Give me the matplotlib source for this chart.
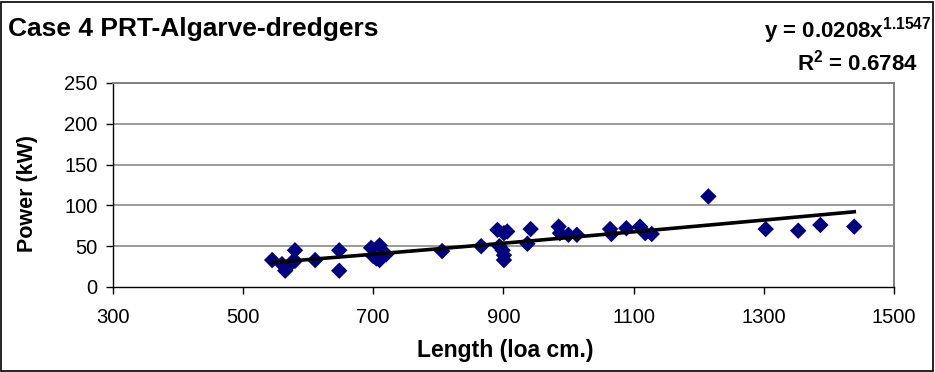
import numpy as np
import matplotlib
matplotlib.use('Agg')
import matplotlib.pyplot as plt

# Case 4 PRT-Algarve-dredgers : length (loa cm) vs power (kW)
length = [545, 560, 565, 575, 580, 580, 611, 648, 648, 697, 700, 705, 710, 710, 720,
          806, 866, 891, 894, 899, 901, 901, 901, 906, 937, 942, 985, 987, 1000, 1013,
          1064, 1066, 1089, 1110, 1118, 1128, 1215, 1303, 1353, 1387, 1439]
power = [33, 28, 20, 30, 45, 32, 33, 45, 20, 48, 38, 35, 51, 33, 40,
         44, 50, 70, 50, 45, 66, 39, 33, 68, 53, 71, 74, 66, 64, 64,
         71, 65, 72, 74, 66, 65, 111, 71, 69, 76, 74]

# power trendline from the chart label
coef_a = 0.0208
coef_b = 1.1547
r2 = 0.6784

x_ticks = [300, 500, 700, 900, 1100, 1300, 1500]
y_ticks = [0, 50, 100, 150, 200, 250]

plt.rcParams['font.family'] = ['Liberation Sans', 'DejaVu Sans']
plt.rcParams['mathtext.fontset'] = 'custom'
plt.rcParams['mathtext.bf'] = 'Liberation Sans:bold'
plt.rcParams['mathtext.rm'] = 'Liberation Sans'

fig = plt.figure(figsize=(9.35, 3.72), dpi=100)
ax = fig.add_axes([0.1205, 0.2285, 0.8356, 0.5484])

ax.set_xlim(300, 1500)
ax.set_ylim(0, 250)
ax.set_xticks(x_ticks)
ax.set_yticks(y_ticks)
ax.tick_params(direction='out', length=5, width=1, labelsize=14.5)
ax.tick_params(axis='x', pad=10)
ax.tick_params(axis='y', pad=6)

for v in y_ticks[1:]:
    ax.axhline(v, color='#808080', lw=1.1, zorder=0)
for s in ['top', 'right']:
    ax.spines[s].set_color('#808080')
    ax.spines[s].set_linewidth(1.4)
for s in ['left', 'bottom']:
    ax.spines[s].set_color('black')
    ax.spines[s].set_linewidth(1)

ax.scatter(length, power, marker='D', s=70, color='#000080', edgecolor='none', zorder=3)

xs = np.linspace(min(length), max(length), 200)
ax.plot(xs, coef_a * xs ** coef_b, color='black', lw=2.6, zorder=4)

fig.text(505 / 935, 1 - 350 / 372, 'Length (loa cm.)', fontsize=16.5, fontweight='bold',
         ha='center', va='center')
fig.text(27 / 935, 1 - 194 / 372, 'Power (kW)', fontsize=15.5, fontweight='bold',
         ha='center', va='center', rotation=90)

fig.text(8 / 935, 1 - 29 / 372, 'Case 4 PRT-Algarve-dredgers', fontsize=19, fontweight='bold',
         ha='left', va='center')
fig.text(931 / 935, 1 - 37 / 372, r'y = 0.0208x$^{\mathbf{1.1547}}$', fontsize=16,
         fontweight='bold', ha='right', va='baseline')
fig.text(918 / 935, 1 - 71 / 372, r'R$^{\mathbf{2}}$ = %.4f' % r2, fontsize=16,
         fontweight='bold', ha='right', va='baseline')

fig.patches.append(plt.Rectangle((0.001, 0.004), 0.997, 0.99, transform=fig.transFigure,
                                 fill=False, edgecolor='black', lw=1.2))

fig.savefig('out.png', dpi=100)
